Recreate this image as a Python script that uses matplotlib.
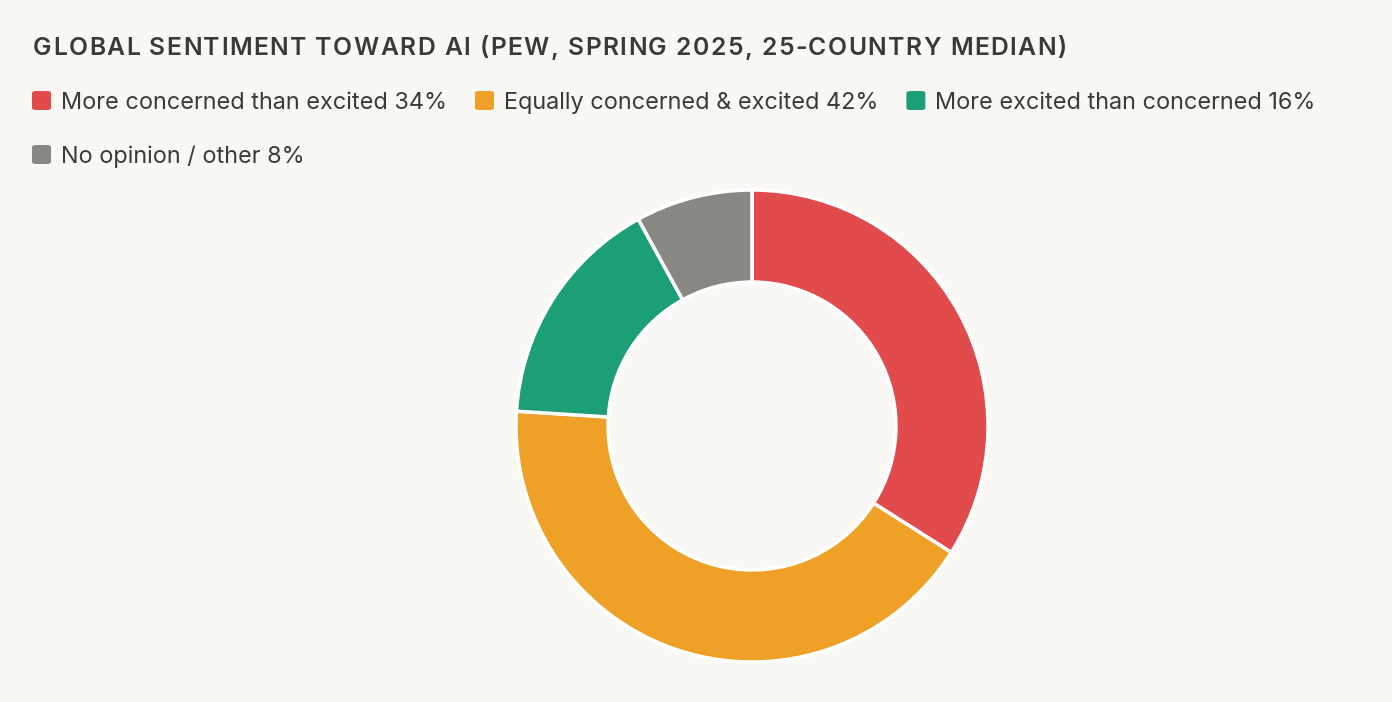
import matplotlib
matplotlib.use("Agg")
import matplotlib.pyplot as plt
from matplotlib.patches import FancyBboxPatch

# data
labels = ["More concerned than excited", "Equally concerned & excited",
          "More excited than concerned", "No opinion / other"]
shares = [34, 42, 16, 8]
colors = ["#E14B4B", "#EEA027", "#1C9E77", "#898781"]
title = "GLOBAL SENTIMENT TOWARD AI (PEW, SPRING 2025, 25-COUNTRY MEDIAN)"

BG = "#F9F8F5"
INK = "#3B3A35"
W, H = 1392, 702

plt.rcParams["font.family"] = ["Inter", "DejaVu Sans"]

fig = plt.figure(figsize=(W / 100, H / 100), dpi=100, facecolor=BG)
renderer = fig.canvas.get_renderer()

# title with letter spacing, drawn glyph by glyph
tx, tracking, tsize = 33, 1.45, 17.8
for ch in title:
    t = fig.text(tx / W, 1 - 55 / H, ch, fontsize=tsize, color=INK,
                 fontweight="semibold", va="baseline", ha="left")
    if ch == " ":
        adv = fig.text(0, 0, "a a", fontsize=tsize, fontweight="semibold")
        w2 = adv.get_window_extent(renderer).width
        adv.set_text("aa")
        w = w2 - adv.get_window_extent(renderer).width
        adv.remove()
    else:
        w = t.get_window_extent(renderer).width
    tx += w + tracking

# legend laid out like a wrapping flow row
x, row_y = 32, 109
for lab, val, col in zip(labels, shares, colors):
    txt = f"{lab} {val}%"
    t = fig.text(0, 0, txt, fontsize=16.9, color=INK, va="baseline", ha="left")
    tw = t.get_window_extent(renderer).width
    if x + 29 + tw > W - 40:
        x = 32
        row_y += 54
    t.set_position(((x + 29) / W, 1 - row_y / H))
    box = FancyBboxPatch((x / W, 1 - (row_y + 1) / H), 19 / W, 19 / H,
                         boxstyle="round,pad=0,rounding_size=0.003",
                         transform=fig.transFigure, facecolor=col,
                         edgecolor="none")
    fig.add_artist(box)
    x += 29 + tw + 28

# donut
cx, cy, r = 752, 426, 236
ax = fig.add_axes([(cx - r) / W, (H - cy - r) / H, 2 * r / W, 2 * r / H])
ax.set_facecolor(BG)
ax.pie(shares, colors=colors, startangle=90, counterclock=False,
       wedgeprops=dict(width=0.39, edgecolor="white", linewidth=2.5))
ax.set_xlim(-1.0, 1.0)
ax.set_ylim(-1.0, 1.0)
ax.set_aspect("equal")
ax.axis("off")

fig.savefig("out.png", dpi=100, facecolor=BG)
